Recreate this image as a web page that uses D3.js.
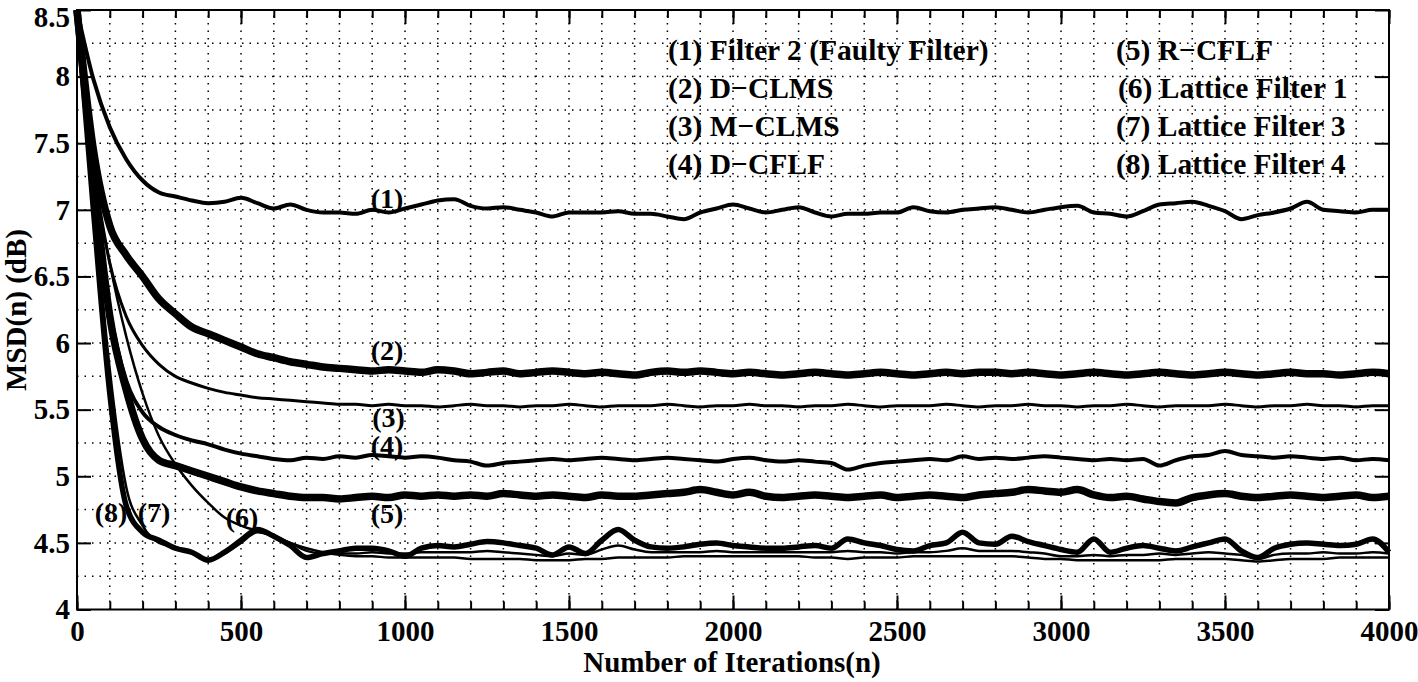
<!DOCTYPE html>
<html>
<head>
<meta charset="UTF-8">
<title>MSD curves</title>
<style>
  body { margin: 0; background: #fff; }
  svg { display: block; }
</style>
</head>
<body>
<svg width="1418" height="682" font-family="'Liberation Serif', 'DejaVu Serif', serif" font-weight="bold"></svg>
<script src="https://d3js.org/d3.v7.min.js"></script>
<script>
// iteration step of the sampled curves (0 .. 4000)
const step = 50;

// values, one every 50 iterations
const filter2 = [8.5,7.98,7.62,7.38,7.22,7.13,7.10,7.07,7.05,7.06,7.09,7.05,7.01,7.04,7.00,6.98,6.98,6.97,7.00,6.98,
  7.01,7.04,7.07,7.08,7.03,7.01,7.02,7.00,6.98,6.95,6.98,6.98,6.98,6.99,6.97,6.97,6.95,6.93,6.98,7.01,
  7.04,7.01,6.98,7.00,7.02,6.98,6.95,6.97,6.97,6.98,6.98,7.02,6.99,6.98,7.00,7.01,7.02,7.00,6.98,7.00,
  7.02,7.03,6.98,6.97,6.95,6.99,7.04,7.05,7.06,7.03,6.99,6.93,6.96,6.98,7.01,7.06,7.00,6.99,6.98,7.00,7.00];
const dclms = [8.5,7.45,6.88,6.66,6.50,6.33,6.22,6.12,6.07,6.02,5.97,5.92,5.89,5.86,5.84,5.82,5.81,5.80,5.79,5.80,
  5.79,5.78,5.80,5.79,5.77,5.78,5.79,5.77,5.78,5.79,5.78,5.77,5.78,5.77,5.76,5.78,5.79,5.78,5.79,5.78,
  5.77,5.78,5.77,5.76,5.77,5.78,5.77,5.76,5.77,5.78,5.77,5.76,5.77,5.78,5.77,5.78,5.78,5.77,5.78,5.77,
  5.76,5.77,5.78,5.77,5.76,5.77,5.78,5.77,5.76,5.77,5.78,5.77,5.76,5.77,5.78,5.77,5.77,5.76,5.77,5.78,5.77];
const mclms = [8.5,7.30,6.60,6.20,5.98,5.84,5.75,5.70,5.66,5.63,5.61,5.59,5.58,5.57,5.56,5.55,5.54,5.54,5.53,5.54,
  5.53,5.53,5.52,5.53,5.54,5.53,5.53,5.52,5.53,5.53,5.54,5.53,5.52,5.53,5.53,5.53,5.54,5.53,5.52,5.53,
  5.53,5.54,5.53,5.53,5.52,5.53,5.53,5.54,5.53,5.52,5.53,5.53,5.53,5.54,5.53,5.52,5.53,5.53,5.54,5.53,
  5.53,5.52,5.53,5.53,5.54,5.53,5.52,5.53,5.53,5.53,5.54,5.53,5.52,5.53,5.53,5.54,5.53,5.53,5.52,5.53,5.53];
const dcflf = [8.5,7.20,6.25,5.72,5.48,5.37,5.31,5.27,5.24,5.20,5.17,5.15,5.13,5.12,5.14,5.13,5.15,5.14,5.16,5.15,
  5.14,5.15,5.14,5.12,5.11,5.08,5.10,5.11,5.12,5.13,5.12,5.13,5.14,5.13,5.12,5.13,5.14,5.13,5.12,5.11,
  5.13,5.14,5.12,5.11,5.12,5.11,5.10,5.05,5.08,5.10,5.11,5.12,5.13,5.12,5.15,5.13,5.14,5.13,5.14,5.15,
  5.14,5.13,5.12,5.13,5.12,5.13,5.08,5.12,5.15,5.16,5.19,5.16,5.15,5.14,5.15,5.14,5.13,5.14,5.12,5.13,5.12];
const rcflf = [8.5,7.25,6.20,5.65,5.28,5.12,5.08,5.04,5.00,4.96,4.92,4.89,4.87,4.85,4.84,4.84,4.83,4.84,4.85,4.84,
  4.86,4.85,4.86,4.85,4.86,4.85,4.87,4.86,4.85,4.86,4.85,4.84,4.86,4.85,4.85,4.86,4.87,4.88,4.90,4.88,
  4.86,4.88,4.85,4.84,4.85,4.86,4.85,4.84,4.85,4.86,4.84,4.85,4.86,4.85,4.84,4.86,4.87,4.88,4.90,4.89,
  4.88,4.90,4.86,4.84,4.85,4.83,4.81,4.80,4.84,4.86,4.87,4.85,4.84,4.85,4.86,4.85,4.84,4.85,4.86,4.84,4.85];
const lattice1 = [8.5,7.35,6.60,6.05,5.62,5.30,5.09,4.93,4.80,4.69,4.63,4.59,4.55,4.50,4.46,4.43,4.41,4.40,4.40,4.39,
  4.39,4.39,4.39,4.39,4.38,4.38,4.38,4.38,4.37,4.37,4.37,4.38,4.38,4.39,4.39,4.39,4.39,4.40,4.40,4.40,
  4.40,4.40,4.40,4.40,4.40,4.39,4.39,4.38,4.39,4.39,4.39,4.40,4.40,4.40,4.40,4.40,4.40,4.40,4.39,4.38,
  4.38,4.37,4.37,4.37,4.37,4.37,4.37,4.38,4.38,4.38,4.38,4.37,4.36,4.37,4.38,4.38,4.38,4.39,4.39,4.39,4.39];
const lattice3 = [8.5,7.10,5.80,4.92,4.63,4.50,4.47,4.42,4.38,4.42,4.50,4.58,4.55,4.50,4.44,4.42,4.42,4.42,4.43,4.42,
  4.42,4.43,4.43,4.43,4.43,4.44,4.43,4.42,4.41,4.40,4.42,4.41,4.45,4.48,4.45,4.43,4.43,4.43,4.43,4.44,
  4.43,4.43,4.43,4.43,4.43,4.43,4.43,4.44,4.43,4.43,4.42,4.43,4.43,4.44,4.46,4.44,4.44,4.44,4.43,4.42,
  4.40,4.40,4.41,4.40,4.41,4.41,4.42,4.41,4.42,4.43,4.42,4.41,4.38,4.41,4.42,4.42,4.43,4.42,4.42,4.43,4.42];
const lattice4 = [8.5,7.00,5.62,4.78,4.58,4.52,4.46,4.43,4.37,4.43,4.52,4.60,4.55,4.48,4.39,4.42,4.44,4.46,4.46,4.44,
  4.40,4.46,4.48,4.47,4.49,4.51,4.50,4.48,4.46,4.41,4.47,4.42,4.52,4.60,4.52,4.47,4.46,4.47,4.49,4.50,
  4.48,4.47,4.46,4.46,4.47,4.48,4.46,4.53,4.50,4.48,4.45,4.44,4.48,4.50,4.58,4.50,4.49,4.55,4.51,4.48,
  4.45,4.43,4.53,4.43,4.46,4.48,4.46,4.44,4.47,4.50,4.53,4.44,4.39,4.46,4.49,4.50,4.49,4.48,4.49,4.53,4.43];

const legendLeft = ["(1) Filter 2 (Faulty Filter)", "(2) D\u2212CLMS", "(3) M\u2212CLMS", "(4) D\u2212CFLF"];
const legendRight = ["(5) R\u2212CFLF", "(6) Lattice Filter 1", "(7) Lattice Filter 3", "(8) Lattice Filter 4"];

// curve tags placed next to the lines: [tag, iteration, MSD]
const tags = [["(1)", 945, 7.09], ["(2)", 945, 5.95], ["(3)", 950, 5.44], ["(4)", 945, 5.23],
  ["(5)", 945, 4.72], ["(6)", 503, 4.69], ["(7)", 235, 4.73], ["(8)", 104, 4.73]];

const series = [
  { values: filter2, w: 4 },
  { values: dclms, w: 7.5 },
  { values: mclms, w: 3 },
  { values: dcflf, w: 4 },
  { values: rcflf, w: 7.5 },
  { values: lattice1, w: 2.5 },
  { values: lattice3, w: 2.5 },
  { values: lattice4, w: 5.5 }
];
series.forEach(s => { if (s.values.length !== 4000 / step + 1) throw new Error("bad length " + s.values.length); });

const svg = d3.select("svg");
const x = d3.scaleLinear().domain([0, 4000]).range([77, 1389]);
const y = d3.scaleLinear().domain([4, 8.5]).range([609.5, 10]);

// dotted grid
const grid = svg.append("g").attr("stroke", "#000").attr("stroke-width", 1.5)
  .attr("stroke-dasharray", "1.5,6");
grid.selectAll(".gx").data(d3.range(100, 4000, 100)).enter().append("line")
  .attr("x1", d => x(d)).attr("x2", d => x(d)).attr("y1", y(4)).attr("y2", y(8.5));
grid.selectAll(".gy").data(d3.range(4.25, 8.5, 0.25)).enter().append("line")
  .attr("y1", d => y(d)).attr("y2", d => y(d)).attr("x1", x(0)).attr("x2", x(4000));

// curves
const line = d3.line()
  .x((d, i) => x(i * step))
  .y(d => y(d))
  .curve(d3.curveMonotoneX);
svg.append("g").selectAll("path").data(series).enter().append("path")
  .attr("d", d => line(d.values))
  .attr("fill", "none").attr("stroke", "#000")
  .attr("stroke-width", d => d.w).attr("stroke-linejoin", "round");

// axes: major and minor ticks, pointing inwards
const major = d3.range(0, 4001, 500);
const minor = d3.range(0, 4001, 100);
const yMajor = d3.range(4, 8.51, 0.5);
const fmt = d => d3.format("~g")(d);

function styleAxis(g) {
  g.attr("font-family", null).attr("font-size", 29);
  g.select(".domain").remove();
  g.selectAll("line").attr("stroke", "#000").attr("stroke-width", 2);
  g.selectAll("text").attr("fill", "#000");
}
svg.append("g").attr("transform", `translate(0,${y(4)})`)
  .call(d3.axisBottom(x).tickValues(minor).tickSize(-8).tickFormat(""))
  .call(styleAxis);
svg.append("g").attr("transform", `translate(0,${y(4)})`)
  .call(d3.axisBottom(x).tickValues(major).tickSize(-14).tickPadding(11).tickFormat(fmt))
  .call(styleAxis);
svg.append("g").attr("transform", `translate(0,${y(8.5)})`)
  .call(d3.axisTop(x).tickValues(minor).tickSize(-8).tickFormat(""))
  .call(styleAxis);
svg.append("g").attr("transform", `translate(0,${y(8.5)})`)
  .call(d3.axisTop(x).tickValues(major).tickSize(-14).tickFormat(""))
  .call(styleAxis);
const yAxisG = svg.append("g").attr("transform", `translate(${x(0)},0)`)
  .call(d3.axisLeft(y).tickValues(yMajor).tickSize(-14).tickPadding(7).tickFormat(fmt))
  .call(styleAxis);
// keep the top label inside the page
yAxisG.selectAll(".tick text").filter(d => d === 8.5).attr("dy", "0.56em");
svg.append("g").attr("transform", `translate(${x(4000)},0)`)
  .call(d3.axisRight(y).tickValues(yMajor).tickSize(-14).tickFormat(""))
  .call(styleAxis);

// frame
svg.append("rect").attr("x", x(0)).attr("y", y(8.5))
  .attr("width", x(4000) - x(0)).attr("height", y(4) - y(8.5))
  .attr("fill", "none").attr("stroke", "#000").attr("stroke-width", 2);

// axis titles
svg.append("text").attr("x", 732).attr("y", 672).attr("text-anchor", "middle")
  .attr("font-size", 29).text("Number of Iterations(n)");
svg.append("text").attr("transform", "translate(26,310) rotate(-90)").attr("text-anchor", "middle")
  .attr("font-size", 29).text("MSD(n) (dB)");

// legend text
const legY = [50, 88, 126, 164];
svg.append("g").selectAll("text").data(legendLeft).enter().append("text")
  .attr("x", 668).attr("y", (d, i) => legY[i]).attr("dy", "0.35em")
  .attr("font-size", 29.5).text(d => d);
svg.append("g").selectAll("text").data(legendRight).enter().append("text")
  .attr("x", (d, i) => i === 1 ? 1118 : 1116).attr("y", (d, i) => legY[i]).attr("dy", "0.35em")
  .attr("font-size", 29.5).text(d => d);

// curve tags
svg.append("g").selectAll("text").data(tags).enter().append("text")
  .attr("x", d => x(d[1])).attr("y", d => y(d[2])).attr("dy", "0.35em")
  .attr("text-anchor", "middle").attr("font-size", 28).text(d => d[0]);
</script>
</body>
</html>
